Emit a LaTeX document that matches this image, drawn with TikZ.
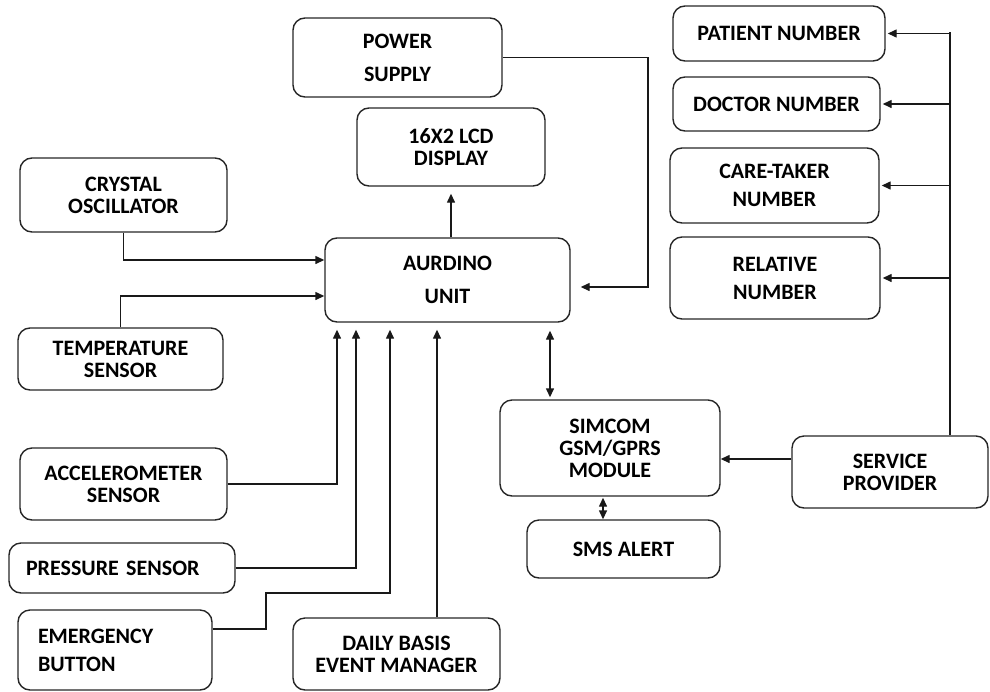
\documentclass[tikz,border=0pt]{standalone}
\usepackage{fontspec}
\setmainfont{Carlito}
\usetikzlibrary{arrows.meta}

\begin{document}
\begin{tikzpicture}[
  x=1pt, y=-1pt,
  font=\fontsize{22}{22}\selectfont\bfseries,
  block/.style={draw=black!85, line width=1.4pt, rounded corners=12pt, align=center, inner sep=2pt}, % all boxes
  arr/.style={draw=black!90, line width=1.4pt, -{Triangle[length=9pt,width=8pt]}},
  dbl/.style={draw=black!90, line width=1.4pt, {Triangle[length=9pt,width=8pt]}-{Triangle[length=9pt,width=8pt]}}
]
  \useasboundingbox (0,0) rectangle (990,691);

  % centre column
  \node[block, minimum width=209pt, minimum height=79pt] (power) at (397.5,57.5) {POWER\\[11pt]SUPPLY};
  \node[block, minimum width=188pt, minimum height=78pt] (lcd) at (451,147) {16X2 LCD\\DISPLAY};
  \node[block, minimum width=245pt, minimum height=84pt] (aurdino) at (447.5,280) {AURDINO\\[11pt]UNIT};

  % sensors on the left
  \node[block, minimum width=207pt, minimum height=74pt] (crystal) at (123.5,195) {CRYSTAL\\OSCILLATOR};
  \node[block, minimum width=205pt, minimum height=62pt] (temp) at (120.5,359) {TEMPERATURE\\SENSOR};
  \node[block, minimum width=207pt, minimum height=72pt] (accel) at (123.5,484) {ACCELEROMETER\\SENSOR};
  \node[block, minimum width=226pt, minimum height=50pt, align=left, inner xsep=17pt, text width=192pt] (pressure) at (122,568) {PRESSURE SENSOR};
  \node[block, minimum width=194pt, minimum height=80pt, align=left, inner xsep=20pt, text width=154pt] (emergency) at (115,650) {EMERGENCY\\[6pt]BUTTON};
  \node[block, minimum width=207pt, minimum height=72pt] (daily) at (396.5,654) {DAILY BASIS\\EVENT MANAGER};

  % gsm side
  \node[block, minimum width=220pt, minimum height=96pt] (simcom) at (610,448) {SIMCOM\\GSM/GPRS\\MODULE};
  \node[block, minimum width=193pt, minimum height=58pt] (sms) at (623.5,549) {SMS ALERT};
  \node[block, minimum width=196pt, minimum height=72pt] (service) at (890,472) {SERVICE\\PROVIDER};

  % numbers
  \node[block, minimum width=212pt, minimum height=55pt] (patient) at (779,33.5) {PATIENT NUMBER};
  \node[block, minimum width=207pt, minimum height=54pt] (doctor) at (776.5,104) {DOCTOR NUMBER};
  \node[block, minimum width=209pt, minimum height=75pt] (caretaker) at (774.5,185.5) {CARE-TAKER\\[6pt]NUMBER};
  \node[block, minimum width=210pt, minimum height=82pt] (relative) at (775,278) {RELATIVE\\[6pt]NUMBER};

  \coordinate (pcorner) at (648,287);
  \coordinate (ejog) at (266,593);
  \coordinate (bus) at (950,32);

  % connections
  \draw[arr, shorten >=7pt] (aurdino.north -| lcd.south) -- (lcd.south);
  \draw[arr, shorten >=10pt] (power.east) -| (pcorner) -- ([yshift=-7pt]aurdino.east);
  \draw[arr] (crystal.south) |- ([yshift=20pt]aurdino.west);
  \draw[arr] (temp.north) |- ([yshift=-16pt]aurdino.west);
  \draw[arr, shorten >=7pt] (accel.east) -| ([xshift=-110.5pt]aurdino.south);
  \draw[arr, shorten >=7pt] (pressure.east) -| ([xshift=-91.5pt]aurdino.south);
  \draw[arr, shorten >=7pt] ([yshift=21pt]emergency.east) -| (ejog) -| ([xshift=-57.5pt]aurdino.south);
  \draw[arr, shorten >=7pt] ([xshift=40.5pt]daily.north) -- ([xshift=-10.5pt]aurdino.south);
  \draw[dbl, shorten <=8pt, shorten >=2pt] ([xshift=102.5pt]aurdino.south) -- ([xshift=102.5pt]aurdino.south |- simcom.north);
  \draw[dbl, shorten <=1pt] ([xshift=-7pt]simcom.south) -- ([xshift=-7pt]simcom.south |- sms.north);
  \draw[arr] ([yshift=13pt]service.west) -- ([yshift=13pt]service.west -| simcom.east);
  \draw[draw=black!90, line width=1.4pt] (service.north -| bus) -- (bus);
  \foreach \n in {patient,doctor,caretaker,relative}
    \draw[arr, shorten >=2pt] (bus |- \n.east) -- (\n.east);

\end{tikzpicture}
\end{document}
